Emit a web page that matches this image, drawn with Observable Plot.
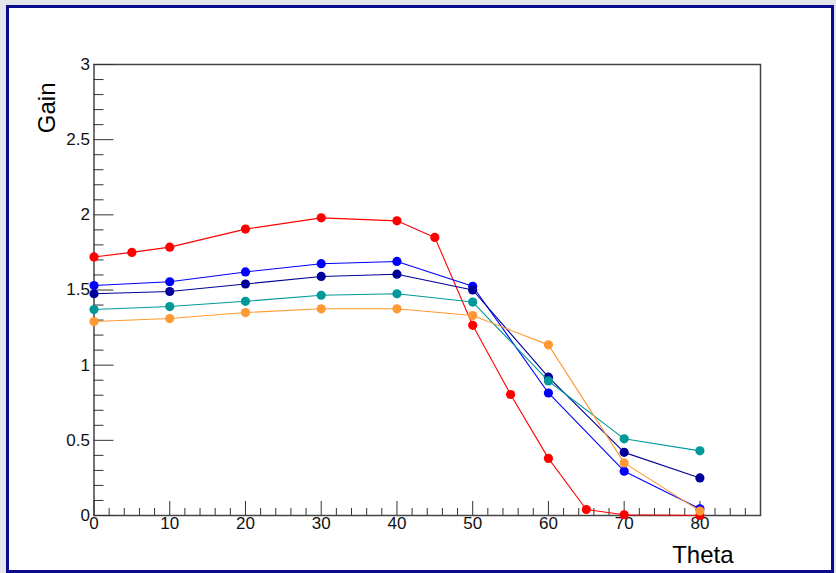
<!DOCTYPE html>
<html>
<head>
<meta charset="utf-8">
<script src="https://cdn.jsdelivr.net/npm/d3@7"></script>
<script src="https://cdn.jsdelivr.net/npm/@observablehq/plot@0.6"></script>
<style>
  html, body { margin: 0; padding: 0; }
  body { width: 836px; height: 573px; background: #e4e6ec; position: relative; overflow: hidden; }
  #canvas { position: absolute; left: 6px; top: 5px; width: 822px; height: 562px;
            background: #fff; border: 3px solid #0a0a8c; }
  #chart { position: absolute; left: 0; top: 0; }
</style>
</head>
<body>
<div id="canvas"></div>
<div id="chart"></div>
<script>
// Gain versus Theta for five configurations
const thetaRed = [0, 5, 10, 20, 30, 40, 45, 50, 55, 60, 65, 70, 80];
const gainRed = [1.72, 1.75, 1.785, 1.905, 1.98, 1.96, 1.85, 1.265, 0.805, 0.38, 0.04, 0.005, 0.0];

const theta = [0, 10, 20, 30, 40, 50, 60, 70, 80];
const gainBlue = [1.53, 1.555, 1.62, 1.675, 1.69, 1.525, 0.815, 0.295, 0.045];
const gainNavy = [1.475, 1.49, 1.54, 1.59, 1.605, 1.50, 0.92, 0.42, 0.25];
const gainTeal = [1.37, 1.39, 1.425, 1.465, 1.475, 1.42, 0.895, 0.51, 0.43];
const gainOrange = [1.29, 1.31, 1.35, 1.375, 1.375, 1.33, 1.135, 0.35, 0.03];

// axis ticks
const xMajor = [0, 10, 20, 30, 40, 50, 60, 70, 80];
const xMinor = d3.range(0, 88, 2).filter(v => v % 10 !== 0);
const yMajor = [0, 0.5, 1, 1.5, 2, 2.5, 3];
const yMinor = d3.range(0, 30).map(i => i / 10).filter(v => Math.round(v * 10) % 5 !== 0);

const series = [
  {name: "red", x: thetaRed, y: gainRed, color: "#ff0000"},
  {name: "blue", x: theta, y: gainBlue, color: "#0000ff"},
  {name: "navy", x: theta, y: gainNavy, color: "#000099"},
  {name: "teal", x: theta, y: gainTeal, color: "#009999"},
  {name: "orange", x: theta, y: gainOrange, color: "#ff9933"}
];

const rows = s => s.x.map((t, i) => ({theta: t, gain: s.y[i]}));

const font = "'Liberation Sans', Arial, Helvetica, sans-serif";
const axisColor = "#333";
const fmt = d => String(d);

const marks = [
  Plot.frame({stroke: "#444", strokeWidth: 1.5}),
  // y ticks drawn inside the frame
  Plot.axisY({ticks: yMajor, anchor: "left", tickSize: 20, dx: 20, text: null, stroke: axisColor, label: null}),
  Plot.axisY({ticks: yMinor, anchor: "left", tickSize: 10, dx: 10, text: null, stroke: axisColor, label: null}),
  // x ticks drawn inside the frame
  Plot.axisX({ticks: xMajor, anchor: "bottom", tickSize: 14, dy: -14, text: null, stroke: axisColor, label: null}),
  Plot.axisX({ticks: xMinor, anchor: "bottom", tickSize: 7, dy: -7, text: null, stroke: axisColor, label: null}),
  // tick labels
  Plot.text(yMajor, {y: d => d, text: fmt, frameAnchor: "left", textAnchor: "end", dx: -4, fontSize: "17px", fill: "#111"}),
  Plot.text(xMajor, {x: d => d, text: fmt, frameAnchor: "bottom", lineAnchor: "top", dy: 1, fontSize: "17px", fill: "#111"}),
  // axis titles
  Plot.text(["Gain"], {frameAnchor: "top-left", rotate: -90, textAnchor: "end", dx: -56, dy: 18, fontSize: 24, fill: "#000"}),
  Plot.text(["Theta"], {frameAnchor: "bottom-right", textAnchor: "end", lineAnchor: "bottom", dx: -27, dy: 47, fontSize: 24, fill: "#000"})
];

for (const s of series) {
  const d = rows(s);
  marks.push(Plot.line(d, {x: "theta", y: "gain", stroke: s.color, strokeWidth: 1.1}));
  marks.push(Plot.dot(d, {x: "theta", y: "gain", r: 4.6, fill: s.color, stroke: "none"}));
}

const chart = Plot.plot({
  width: 836,
  height: 573,
  marginLeft: 93.5,
  marginRight: 76,
  marginTop: 64,
  marginBottom: 58,
  style: {background: "transparent", fontFamily: font},
  x: {domain: [0, 88]},
  y: {domain: [0, 3]},
  marks
});

document.getElementById("chart").append(chart);
</script>
</body>
</html>
